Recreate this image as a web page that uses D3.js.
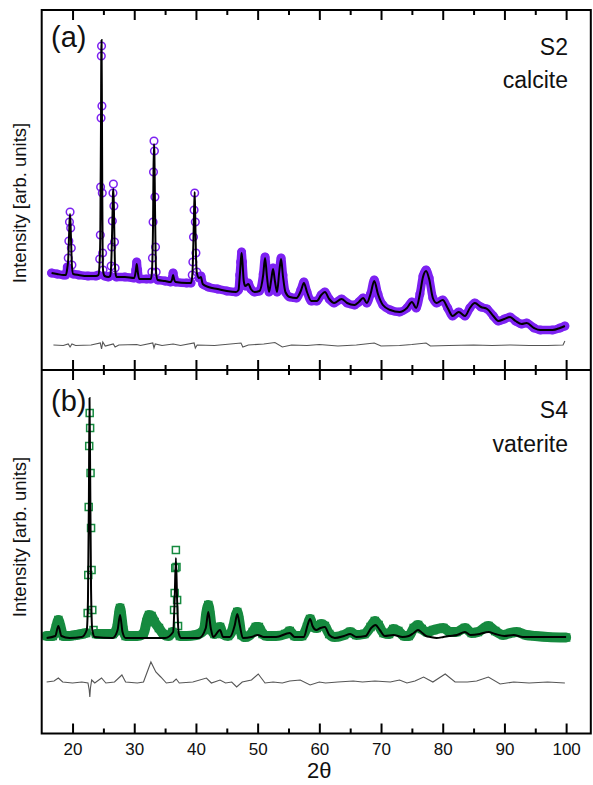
<!DOCTYPE html>
<html><head><meta charset="utf-8">
<script src="https://cdn.jsdelivr.net/npm/d3@7"></script>
<style>body{margin:0;background:#fff}svg{display:block}text{font-family:"Liberation Sans",Arial,sans-serif;fill:#111}</style>
</head><body><svg id="c" width="593" height="785"></svg>
<script>
// ---------- data ----------
const majorTicks = [20,30,40,50,60,70,80,90,100];
const minorTicks = [25,35,45,55,65,75,85,95];

// (a) S2 calcite : observed (circles) and calculated (line)
const calciteTheta = [16.6,17.5,18.5,18.9,19.15,19.3,19.4,19.5,19.6,19.7,19.8,19.9,20.1,21.0,22.5,23.8,24.2,24.4,24.5,24.55,24.62,24.66,24.7,24.76,24.82,24.88,24.95,25.2,25.8,26.1,26.25,26.35,26.45,26.55,26.62,26.7,26.8,26.9,27.1,28.5,30.0,30.25,30.4,30.55,30.8,32.0,32.7,32.85,32.95,33.05,33.12,33.2,33.27,33.35,33.45,33.55,33.8,35.0,35.9,36.15,36.3,36.45,36.7,38.5,39.2,39.4,39.5,39.6,39.7,39.8,39.9,40.0,40.15,40.5,40.8,41.1,42.0,43.5,45.0,46.5,46.9,47.1,47.25,47.4,47.55,47.75,48.0,48.5,48.9,49.5,50.3,50.9,51.2,51.5,51.85,52.2,52.5,52.8,53.15,53.5,53.8,54.1,54.5,55.2,56.3,57.0,57.5,58.0,58.7,59.6,60.3,60.9,61.6,62.4,63.6,64.5,65.7,66.4,67.1,67.7,68.3,68.9,69.5,70.3,71.5,73.0,74.2,75.0,75.7,76.3,76.8,77.3,77.8,78.4,79.0,80.0,80.8,81.6,82.6,83.6,84.4,85.2,86.2,87.2,88.2,89.0,90.0,90.9,91.8,92.8,93.6,94.8,95.8,97.8,99.0,99.8];
const calciteObs = [97,96,95,95,103,112,129,148,158,142,122,105,96,95,94,94,95,111,135,183,252,314,324,264,177,117,100,94,93,94,104,123,149,177,186,164,128,102,93,93,92,100,108,100,91,91,91,98,112,148,198,229,219,173,123,98,90,89,88,92,97,92,88,87,87,95,108,133,160,177,148,117,98,92,94,86,83,81,79,78,80,95,108,118,108,90,84,87,81,78,79,96,113,95,78,91,102,90,78,99,112,95,78,73,72,80,88,78,69,69,75,78,71,67,71,67,65,68,72,67,76,90,76,65,60,58,62,68,62,76,94,100,92,72,67,70,62,54,58,54,62,67,63,61,54,49,51,53,49,46,47,42,40,40,42,44];
const calciteCalc = [97,96,95,95,102,111,128,147,156,141,121,104,96,95,94,94,95,110,134,185,255,318,330,262,175,116,99,94,93,94,103,122,148,176,181,163,127,101,93,93,92,99,106,99,91,91,91,97,111,147,199,226,216,171,121,97,90,89,88,91,95,91,88,87,87,94,107,132,160,178,147,116,97,92,93,86,83,81,79,78,80,94,107,117,107,89,84,86,81,78,79,95,112,94,78,90,101,89,78,98,111,94,78,73,72,79,87,78,69,69,75,78,71,67,71,67,65,68,72,67,76,89,76,65,60,58,62,68,62,76,93,99,91,72,67,70,62,54,58,54,62,67,63,61,54,49,51,53,49,46,47,42,40,40,42,44];
const calciteDiffTheta = [16.9,18.5,19.3,19.6,19.9,20.5,23.0,24.5,24.7,24.9,25.3,26.6,26.9,27.5,30.4,31.0,33.0,33.2,33.4,34.5,36.3,37.5,39.7,39.9,40.2,43.0,47.3,47.6,48.5,51.0,52.8,54.0,55.5,58.0,60.0,63.0,66.0,68.9,70.0,73.0,75.0,77.3,78.0,81.0,85.0,88.0,91.0,94.0,97.0,99.5,99.8];
const calciteDiff = [0.5,0,1.5,-1.5,1.5,0,0.5,2.5,-3.5,3.5,-0.5,1.5,-1.5,0.5,1,0,2.5,-2.5,1.5,0,1.5,0,2.5,-2.5,0.5,0,2.5,-1.5,0.5,1.5,3,-1.5,0.5,0,1,-0.5,0.5,2.5,-0.5,0,1,2.5,-0.5,0,0.5,0,0.5,0,0,0.5,4.5];
const calciteDiffOffset = 24.5;

// (b) S4 vaterite
const vateriteTheta = [15.8,16.8,17.3,17.7,18.1,18.5,19.5,20.5,21.5,22.2,22.45,22.55,22.62,22.7,22.78,22.85,22.92,23.0,23.08,23.2,23.4,23.8,24.5,25.5,26.5,27.2,27.5,27.7,27.9,28.2,28.6,29.5,30.5,31.5,32.0,32.4,32.8,33.3,34.0,34.7,35.5,36.2,36.45,36.55,36.65,36.75,36.85,36.95,37.1,37.4,38.5,40.0,41.3,41.7,42.0,42.3,42.6,43.0,43.5,43.9,44.3,45.2,46.0,46.4,46.7,47.0,47.4,48.0,49.2,49.7,50.2,50.8,51.5,53.0,54.5,55.2,56.0,57.2,58.0,58.5,59.0,59.6,60.3,60.9,61.6,62.5,64.0,65.0,66.0,67.3,68.3,69.0,69.6,70.4,71.3,72.0,72.8,73.8,74.5,75.3,76.0,76.6,77.5,78.5,80.1,81.2,82.2,83.6,84.7,85.7,87.4,88.5,89.8,91.0,92.0,93.5,95.0,97.0,100.0];
const vateriteObs = [97.5,97.5,105.5,113.5,105.5,97.5,97.5,98.5,99.5,100.5,120.5,158.5,226.5,287.5,320.5,305.5,260.5,205.5,163.5,123.5,103.5,99.5,99.5,99.5,99.5,105.5,118.5,125.5,118.5,103.5,97.5,97.5,97.5,99.5,111.5,118.5,117.5,111.5,105.5,99.5,97.5,101.5,123.5,140.5,165.5,183.5,166.5,133.5,107.5,97.5,97.5,98.5,103.5,121.5,128.5,118.5,103.5,99.5,105.5,106.5,99.5,97.5,105.5,116.5,121.5,113.5,98.5,96.5,101.5,106.5,106.5,99.5,97.5,97.5,99.5,102.5,97.5,97.5,106.5,114.5,106.5,105.5,109.5,107.5,99.5,96.5,98.5,101.5,98.5,99.5,106.5,112.5,108.5,100.5,99.5,104.5,102.5,97.5,97.5,105.5,108.5,104.5,101.5,103.5,105.5,101.5,101.5,105.5,100.5,101.5,107.5,102.5,98.5,100.5,101.5,98.5,97.5,96.5,96];
const vateriteCalcTheta = [15.8,17.2,17.7,18.2,19.5,21.5,22.3,22.5,22.65,22.75,22.85,23.0,23.2,23.6,26.5,27.3,27.7,28.1,28.6,31.0,35.0,36.3,36.55,36.75,36.95,37.2,37.6,40.5,41.6,42.0,42.4,42.8,43.9,44.4,45.5,46.3,46.7,47.1,47.6,49.0,50.0,51.0,53.0,55.2,56.0,57.5,58.1,58.5,58.9,59.5,60.2,60.9,61.6,62.5,64.0,65.0,66.0,67.5,68.4,69.1,69.8,70.6,72.0,73.5,74.5,75.3,76.0,76.7,77.3,78.0,79.0,80.1,81.0,82.3,83.6,84.5,86.0,87.4,88.5,90.0,91.5,93.0,95.0,100.0];
const vateriteCalc = [95.5,97.5,107.5,97.5,95.5,96.5,103.5,133.5,233.5,335.5,263.5,143.5,103.5,96.5,95.5,103.5,118.5,101.5,95.5,95.5,95.5,101.5,133.5,175.5,133.5,100.5,95.5,95.5,105.5,121.5,105.5,96.5,103.5,96.5,96.5,108.5,119.5,108.5,95.5,96.5,98.5,96.5,96.5,100.5,96.5,96.5,108.5,114.5,107.5,103.5,105.5,106.5,98.5,95.5,97.5,99.5,96.5,97.5,105.5,108.5,103.5,97.5,98.5,96.5,97.5,100.5,103.5,100.5,97.5,96.5,95.5,96.5,97.5,98.5,101.5,98.5,99.5,101.5,99.5,97.5,98.5,96.5,96.5,96.5];
const vateriteDiffTheta = [15.8,17.0,17.7,18.4,20.0,21.5,22.5,22.7,22.8,22.9,23.1,23.6,24.7,25.4,26.8,28.0,28.6,30.5,31.5,32.7,33.5,34.3,35.2,36.3,36.8,37.3,39.5,41.7,42.5,43.9,44.8,45.8,46.6,47.5,49.0,50.1,51.2,52.5,54.0,55.2,56.9,58.5,60.0,61.0,63.0,65.5,67.0,69.0,71.5,73.0,74.2,75.5,76.9,78.4,80.4,82.0,84.0,85.5,87.4,89.3,91.5,94.0,97.0,99.8];
const vateriteDiff = [0,1,4,0,-1,0,-1,-8,-15,-6,2,-1,4,-1,0,7,0,-1,0,20,10,5,-1,0,3,-1,0,4,-1,2,-1,0,-5,0,2,8,-1,0,-1,1,2,-3,0,-1,0,1,0,1,0,2,-1,1,5,0,8,0,0,1,5,-2,0,-1,0,-1];
const vateriteDiffOffset = 51.5;

(function(){
const svg = d3.select("#c");
const L = 41.7, R = 590.8, T = 10, M = 370, B = 733.5;
const x = d3.scaleLinear().domain([15, 104]).range([L, R]);
const yA = d3.scaleLinear().domain([0, 360]).range([M, T]);
const yB = d3.scaleLinear().domain([0, 363.5]).range([B, M]);

const purple = "#7d22f2", green = "#168a3f";
const FONT = "Liberation Sans, Arial, sans-serif";

function zip(t, v){ return t.map((d,i)=>({t:d, v:v[i]})); }

function panel(y, obs, calc, diff, diffOffset, color, marker, bandW){
  const g = svg.append("g");
  const pts = obs.map(d=>({t:d.t, v:d.v, px:x(d.t), py:y(d.v)}));
  pts.forEach((p,i)=>{
    let s = 0;
    if(i>0){ const q=pts[i-1]; s=Math.max(s, Math.abs(p.py-q.py)/Math.max(0.01,p.px-q.px)); }
    if(i<pts.length-1){ const q=pts[i+1]; s=Math.max(s, Math.abs(p.py-q.py)/Math.max(0.01,q.px-p.px)); }
    p.flat = s < 15;
  });
  g.append("path").datum(pts)
    .attr("d", d3.line().defined(p=>p.flat).x(p=>p.px).y(p=>p.py).curve(d3.curveMonotoneX))
    .attr("fill","none").attr("stroke",color).attr("stroke-width",bandW).attr("stroke-linecap","round").attr("stroke-linejoin","round");
  if(marker==="circle"){
    g.selectAll("circle.m").data(pts).join("circle").attr("class","m")
      .attr("cx",p=>p.px).attr("cy",p=>p.py).attr("r",3.8)
      .attr("fill","none").attr("stroke",color).attr("stroke-width",1.5);
  } else {
    g.selectAll("rect.m").data(pts).join("rect").attr("class","m")
      .attr("x",p=>p.px-3.5).attr("y",p=>p.py-3.5).attr("width",7).attr("height",7)
      .attr("fill","none").attr("stroke",color).attr("stroke-width",1.5);
  }
  g.append("path").datum(calc)
    .attr("d", d3.line().x(d=>x(d.t)).y(d=>y(d.v)).curve(d3.curveMonotoneX))
    .attr("fill","none").attr("stroke","#000").attr("stroke-width",2);
  g.append("path").datum(diff)
    .attr("d", d3.line().x(d=>x(d.t)).y(d=>y(d.v+diffOffset)))
    .attr("fill","none").attr("stroke","#555").attr("stroke-width",1.1);
}

panel(yA, zip(calciteTheta, calciteObs), zip(calciteTheta, calciteCalc), zip(calciteDiffTheta, calciteDiff), calciteDiffOffset, purple, "circle", 8.5);
panel(yB, zip(vateriteTheta, vateriteObs), zip(vateriteCalcTheta, vateriteCalc), zip(vateriteDiffTheta, vateriteDiff), vateriteDiffOffset, green, "square", 10);

// frame
svg.append("rect").attr("x",L).attr("y",T).attr("width",R-L).attr("height",B-T)
  .attr("fill","none").attr("stroke","#000").attr("stroke-width",2);
svg.append("line").attr("x1",L).attr("x2",R).attr("y1",M).attr("y2",M).attr("stroke","#000").attr("stroke-width",2);

function tickAxis(yPos, down, labels){
  const mk = down ? d3.axisTop : d3.axisBottom;
  const a1 = mk(x).tickValues(majorTicks).tickSize(-10).tickSizeOuter(0).tickPadding(9).tickFormat(labels ? d3.format("d") : "");
  const a2 = mk(x).tickValues(minorTicks).tickSize(-5).tickSizeOuter(0).tickFormat("");
  [a1,a2].forEach(a=>{
    const g = svg.append("g").attr("transform",`translate(0,${yPos})`).call(a);
    g.select(".domain").remove();
    g.selectAll(".tick line").attr("stroke","#000").attr("stroke-width",2);
    g.selectAll(".tick text").attr("font-size",17).attr("fill","#111").attr("font-family",FONT);
  });
}
tickAxis(T, true, false);
tickAxis(M, false, false);
tickAxis(M, true, false);
tickAxis(B, false, true);

// labels
svg.append("text").attr("x",x(60)).attr("y",778).attr("text-anchor","middle").attr("font-size",22).text("2θ");
[203, 537].forEach(cy=>{
  svg.append("text").attr("transform",`translate(26,${cy}) rotate(-90)`).attr("text-anchor","middle").attr("font-size",18.5).text("Intensity [arb. units]");
});
svg.append("text").attr("x",51).attr("y",47).attr("font-size",29).text("(a)");
svg.append("text").attr("x",51).attr("y",411).attr("font-size",29).text("(b)");
svg.append("text").attr("x",568).attr("y",55).attr("text-anchor","end").attr("font-size",23).text("S2");
svg.append("text").attr("x",568).attr("y",88).attr("text-anchor","end").attr("font-size",23).text("calcite");
svg.append("text").attr("x",568).attr("y",418).attr("text-anchor","end").attr("font-size",23).text("S4");
svg.append("text").attr("x",568).attr("y",452).attr("text-anchor","end").attr("font-size",23).text("vaterite");
})();
</script></body></html>
